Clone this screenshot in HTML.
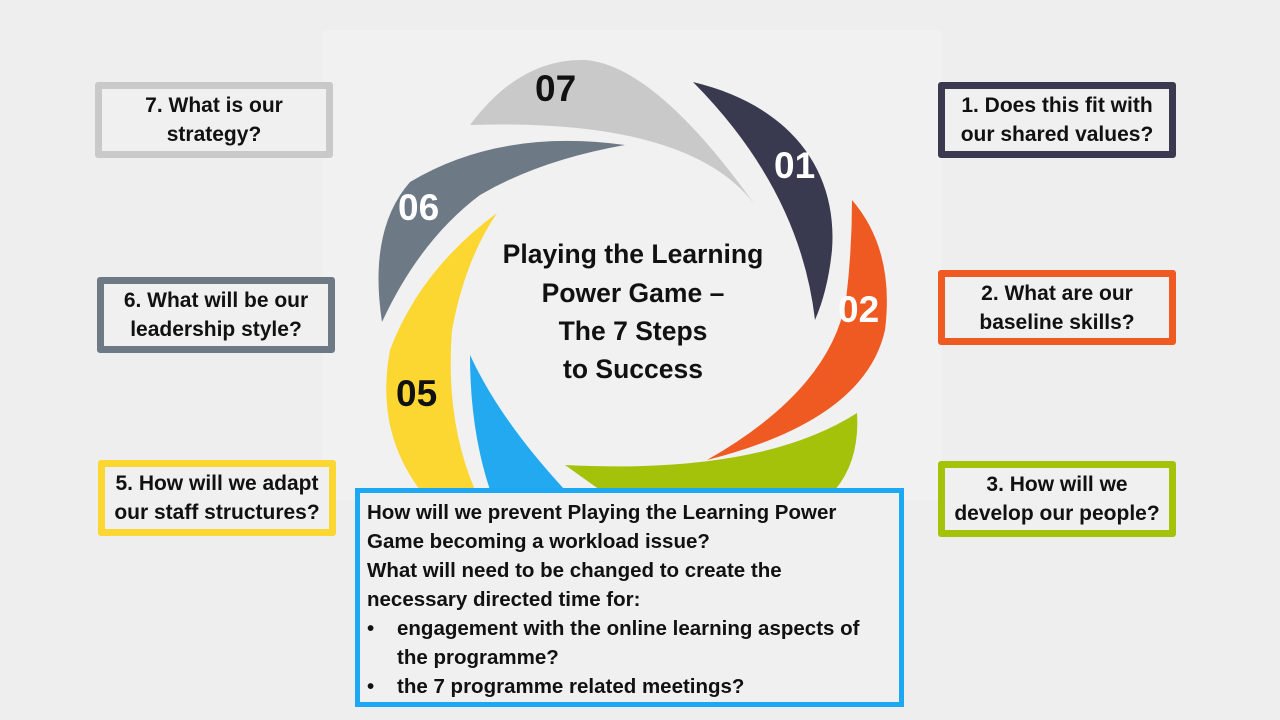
<!DOCTYPE html>
<html><head><meta charset="utf-8"><style>
html,body{margin:0;padding:0;}
body{width:1280px;height:720px;background:#efeeee;position:relative;overflow:hidden;font-family:"Liberation Sans",Arial,sans-serif;}
.b{position:absolute;box-sizing:border-box;border:7px solid;border-radius:3px;background:#f1f0f0;display:flex;align-items:center;justify-content:center;text-align:center;font-weight:bold;font-size:21px;line-height:29px;color:#111;white-space:nowrap;}
.big{position:absolute;left:355px;top:488px;width:549px;height:219px;box-sizing:border-box;border:5px solid #1ea7f2;background:#f1f0f0;font-weight:bold;font-size:20.5px;line-height:29px;color:#111;padding:5px 0 0 7px;white-space:nowrap;}
.big ul{margin:0;padding:0;list-style:none;}
.big li{position:relative;padding-left:30px;}
.big li:before{content:"•";position:absolute;left:0;}
</style></head><body>
<div style="position:absolute;left:322px;top:30px;width:620px;height:470px;background:#f2f1f1"></div>
<svg width="1280" height="720" style="position:absolute;left:0;top:0">
<path d="M470,125 Q520,58 585,60 Q655,65 755,205 Q690,118 470,125 Z" fill="#c9c9c9"/>
<path d="M693,82 C790,105 838,170 832,250 Q828,290 815,320 Q800,190 693,82 Z" fill="#393a50"/>
<path d="M852,200 Q895,250 885,330 Q865,420 707,460 Q830,390 846,300 Q852,250 852,200 Z" fill="#ef5a22"/>
<path d="M565,465 Q760,475 857,413 Q860,460 835,490 L600,490 Z" fill="#a5c20a"/>
<path d="M470,355 Q470,430 490,490 L565,490 Q500,420 470,355 Z" fill="#22a9f0"/>
<path d="M497,213 Q420,270 390,350 Q375,430 420,490 L475,490 Q445,420 452,330 Q465,260 497,213 Z" fill="#fcd631"/>
<path d="M625,145 Q500,128 410,182 Q368,230 382,322 Q420,240 480,195 Q540,160 625,145 Z" fill="#6d7a86"/>
<g font-family="Liberation Sans,Arial,sans-serif" font-weight="bold" font-size="37">
<text x="535" y="101" fill="#111">07</text>
<text x="774" y="178" fill="#fff">01</text>
<text x="838" y="322" fill="#fff">02</text>
<text x="398" y="220" fill="#fff">06</text>
<text x="396" y="406" fill="#111">05</text>
</g>
<g font-family="Liberation Sans,Arial,sans-serif" font-weight="bold" font-size="26.5" text-anchor="middle" fill="#111">
<text x="633" y="263">Playing the Learning</text>
<text x="633" y="302">Power Game –</text>
<text x="633" y="340">The 7 Steps</text>
<text x="633" y="378">to Success</text>
</g>
</svg>
<div class="b" style="left:95px;top:82px;width:238px;height:76px;border-color:#c9c9c9">7. What is our<br>strategy?</div>
<div class="b" style="left:97px;top:277px;width:238px;height:76px;border-color:#6d7a86">6. What will be our<br>leadership style?</div>
<div class="b" style="left:98px;top:460px;width:238px;height:76px;border-color:#fcd631">5. How will we adapt<br>our staff structures?</div>
<div class="b" style="left:938px;top:82px;width:238px;height:76px;border-color:#393a50">1. Does this fit with<br>our shared values?</div>
<div class="b" style="left:938px;top:270px;width:238px;height:75px;border-color:#ef5a22">2. What are our<br>baseline skills?</div>
<div class="b" style="left:938px;top:461px;width:238px;height:76px;border-color:#a5c20a">3. How will we<br>develop our people?</div>
<div class="big">How will we prevent Playing the Learning Power<br>Game becoming a workload issue?<br>What will need to be changed to create the<br>necessary directed time for:
<ul><li>engagement with the online learning aspects of<br>the programme?</li><li>the 7 programme related meetings?</li></ul></div>
</body></html>
